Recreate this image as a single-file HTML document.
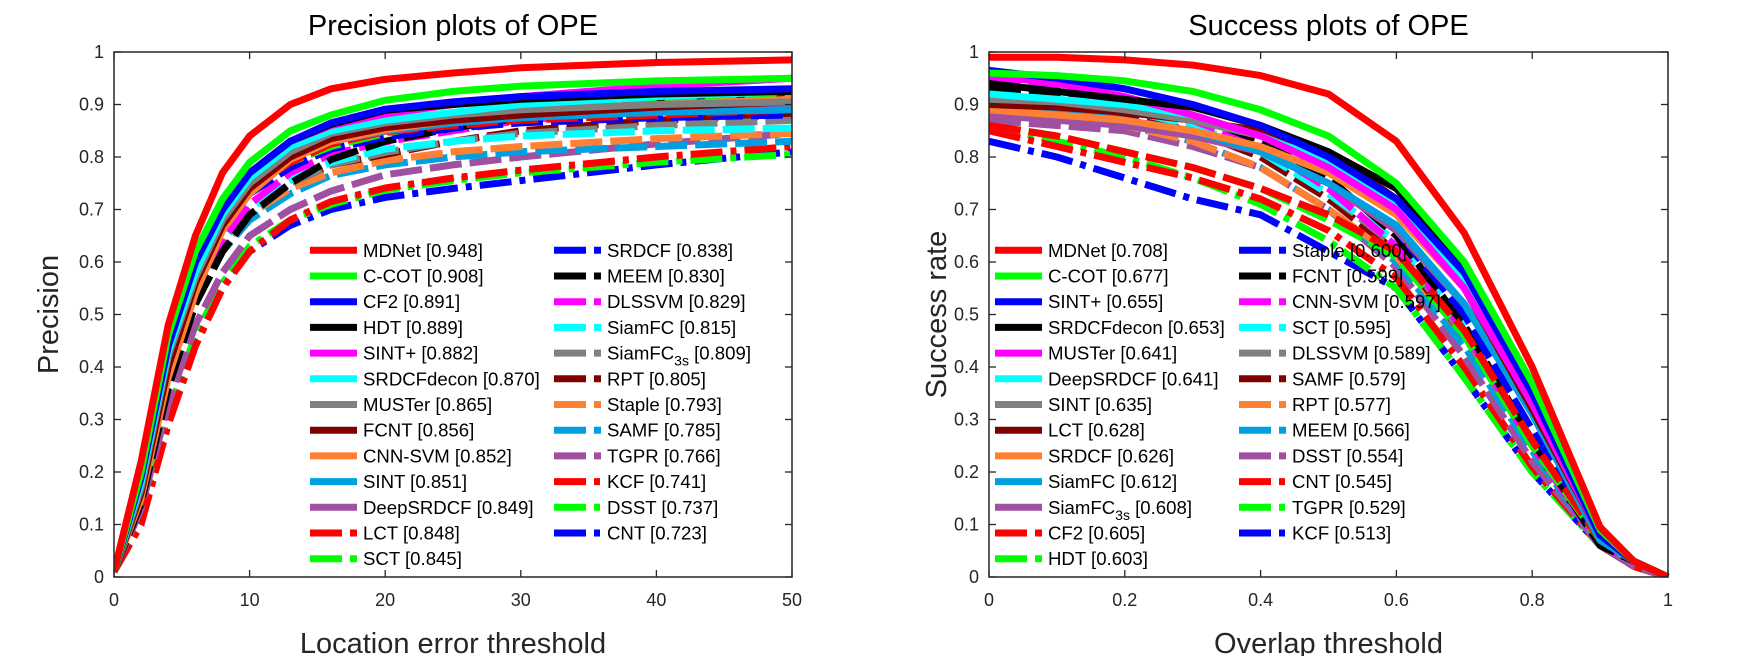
<!DOCTYPE html>
<html><head><meta charset="utf-8"><style>
body{margin:0;background:#fff;}
svg{display:block;font-family:"Liberation Sans",Arial,sans-serif;}
</style></head><body>
<svg id="chart" width="1750" height="656" viewBox="0 0 1750 656" xmlns="http://www.w3.org/2000/svg"></svg>
<script>
// ---- Precision data ----
const precThresholds=[0,2,4,6,8,10,13,16,20,25,30,40,50];
const precNames=["MDNet [0.948]","C-COT [0.908]","CF2 [0.891]","HDT [0.889]","SINT+ [0.882]","SRDCFdecon [0.870]","MUSTer [0.865]","FCNT [0.856]","CNN-SVM [0.852]","SINT [0.851]","DeepSRDCF [0.849]","LCT [0.848]","SCT [0.845]","SRDCF [0.838]","MEEM [0.830]","DLSSVM [0.829]","SiamFC [0.815]","SiamFC|3s| [0.809]","RPT [0.805]","Staple [0.793]","SAMF [0.785]","TGPR [0.766]","KCF [0.741]","DSST [0.737]","CNT [0.723]"];
const precValues=[
[0.01,0.22,0.48,0.65,0.77,0.84,0.90,0.93,0.948,0.96,0.97,0.98,0.985],
[0.01,0.20,0.46,0.62,0.72,0.79,0.85,0.88,0.908,0.925,0.935,0.945,0.95],
[0.01,0.19,0.44,0.60,0.70,0.77,0.83,0.865,0.891,0.905,0.915,0.925,0.93],
[0.01,0.19,0.44,0.60,0.70,0.77,0.83,0.862,0.889,0.90,0.91,0.92,0.925],
[0.01,0.20,0.45,0.61,0.71,0.77,0.83,0.86,0.882,0.90,0.915,0.935,0.95],
[0.01,0.18,0.43,0.58,0.69,0.76,0.82,0.85,0.870,0.885,0.90,0.915,0.925],
[0.01,0.17,0.42,0.57,0.68,0.75,0.81,0.845,0.865,0.88,0.89,0.90,0.905],
[0.01,0.16,0.40,0.56,0.67,0.74,0.80,0.835,0.856,0.87,0.88,0.895,0.905],
[0.01,0.15,0.38,0.54,0.66,0.73,0.795,0.83,0.852,0.87,0.885,0.90,0.91],
[0.01,0.19,0.44,0.59,0.69,0.75,0.80,0.83,0.851,0.865,0.875,0.885,0.89],
[0.01,0.16,0.40,0.56,0.67,0.74,0.795,0.83,0.849,0.865,0.875,0.89,0.90],
[0.01,0.16,0.40,0.56,0.67,0.74,0.79,0.825,0.848,0.86,0.87,0.88,0.89],
[0.01,0.17,0.41,0.57,0.67,0.74,0.79,0.82,0.845,0.87,0.89,0.91,0.92],
[0.01,0.16,0.39,0.55,0.66,0.73,0.78,0.815,0.838,0.855,0.865,0.875,0.88],
[0.01,0.14,0.36,0.52,0.62,0.69,0.75,0.795,0.83,0.855,0.875,0.905,0.92],
[0.01,0.15,0.38,0.54,0.64,0.71,0.77,0.805,0.829,0.85,0.87,0.89,0.90],
[0.01,0.17,0.40,0.55,0.64,0.70,0.755,0.79,0.815,0.83,0.84,0.85,0.855],
[0.01,0.16,0.39,0.54,0.63,0.69,0.75,0.785,0.809,0.83,0.845,0.86,0.87],
[0.01,0.14,0.36,0.52,0.62,0.69,0.75,0.785,0.805,0.83,0.85,0.87,0.88],
[0.01,0.16,0.39,0.54,0.63,0.69,0.74,0.77,0.793,0.81,0.82,0.835,0.845],
[0.01,0.15,0.37,0.52,0.62,0.68,0.73,0.765,0.785,0.80,0.81,0.82,0.83],
[0.01,0.13,0.33,0.48,0.58,0.65,0.70,0.735,0.766,0.785,0.80,0.825,0.845],
[0.01,0.10,0.29,0.44,0.55,0.62,0.68,0.715,0.741,0.76,0.775,0.80,0.82],
[0.01,0.12,0.31,0.46,0.56,0.63,0.68,0.71,0.737,0.755,0.77,0.79,0.805],
[0.01,0.12,0.31,0.46,0.56,0.62,0.67,0.70,0.723,0.74,0.755,0.785,0.81]];
const precXTicks=[0,10,20,30,40,50];
// ---- Success data ----
const succThresholds=[0,0.1,0.2,0.3,0.4,0.5,0.6,0.7,0.8,0.9,0.95,1];
const succNames=["MDNet [0.708]","C-COT [0.677]","SINT+ [0.655]","SRDCFdecon [0.653]","MUSTer [0.641]","DeepSRDCF [0.641]","SINT [0.635]","LCT [0.628]","SRDCF [0.626]","SiamFC [0.612]","SiamFC|3s| [0.608]","CF2 [0.605]","HDT [0.603]","Staple [0.600]","FCNT [0.599]","CNN-SVM [0.597]","SCT [0.595]","DLSSVM [0.589]","SAMF [0.579]","RPT [0.577]","MEEM [0.566]","DSST [0.554]","CNT [0.545]","TGPR [0.529]","KCF [0.513]"];
const succValues=[
[0.99,0.99,0.985,0.975,0.955,0.92,0.83,0.655,0.40,0.095,0.03,0],
[0.96,0.955,0.945,0.925,0.89,0.84,0.75,0.60,0.37,0.09,0.03,0],
[0.965,0.95,0.93,0.90,0.86,0.80,0.72,0.58,0.35,0.08,0.03,0],
[0.94,0.925,0.91,0.895,0.86,0.81,0.74,0.59,0.36,0.08,0.03,0],
[0.955,0.94,0.915,0.88,0.84,0.78,0.70,0.55,0.33,0.08,0.03,0],
[0.92,0.91,0.90,0.88,0.84,0.79,0.71,0.57,0.36,0.09,0.03,0],
[0.91,0.905,0.89,0.87,0.84,0.79,0.71,0.55,0.33,0.08,0.03,0],
[0.90,0.895,0.885,0.87,0.85,0.81,0.72,0.55,0.32,0.08,0.03,0],
[0.89,0.88,0.87,0.85,0.82,0.77,0.69,0.55,0.34,0.08,0.03,0],
[0.90,0.89,0.87,0.85,0.81,0.75,0.67,0.52,0.31,0.07,0.03,0],
[0.88,0.87,0.86,0.84,0.81,0.75,0.66,0.52,0.32,0.08,0.03,0],
[0.86,0.84,0.81,0.78,0.74,0.69,0.62,0.47,0.26,0.07,0.03,0],
[0.86,0.84,0.81,0.78,0.74,0.68,0.61,0.46,0.25,0.07,0.03,0],
[0.90,0.89,0.87,0.85,0.81,0.75,0.66,0.50,0.28,0.07,0.03,0],
[0.93,0.92,0.90,0.88,0.83,0.76,0.65,0.48,0.26,0.06,0.03,0],
[0.95,0.93,0.90,0.87,0.82,0.74,0.63,0.47,0.25,0.06,0.03,0],
[0.93,0.91,0.89,0.86,0.81,0.73,0.64,0.49,0.28,0.07,0.03,0],
[0.93,0.91,0.89,0.86,0.81,0.73,0.63,0.46,0.25,0.06,0.03,0],
[0.92,0.90,0.88,0.85,0.80,0.72,0.62,0.46,0.25,0.06,0.03,0],
[0.89,0.88,0.86,0.83,0.78,0.70,0.61,0.46,0.26,0.06,0.03,0],
[0.91,0.89,0.86,0.83,0.78,0.70,0.60,0.44,0.24,0.06,0.03,0],
[0.87,0.86,0.85,0.82,0.78,0.70,0.59,0.42,0.22,0.06,0.02,0],
[0.85,0.82,0.79,0.76,0.72,0.66,0.57,0.40,0.21,0.06,0.02,0],
[0.86,0.83,0.80,0.76,0.71,0.64,0.55,0.38,0.20,0.06,0.02,0],
[0.83,0.80,0.76,0.72,0.69,0.62,0.55,0.38,0.20,0.06,0.02,0]];
const succXTicks=[0,0.2,0.4,0.6,0.8,1];
const yTicks=[0,0.1,0.2,0.3,0.4,0.5,0.6,0.7,0.8,0.9,1];
const yTickLabels=["0","0.1","0.2","0.3","0.4","0.5","0.6","0.7","0.8","0.9","1"];

const colors=["#ff0000","#00ff00","#0000ff","#000000","#ff00ff","#00ffff","#808080","#800000","#ff8033","#00a0e0","#a050a0"];
function styleFor(i){
  if(i<11) return {c:colors[i],d:null};
  if(i<22) return {c:colors[i-11],d:"32 8"};
  return {c:["#ff0000","#00ff00","#0000ff"][i-22],d:"32 8 6 8"};
}
const NS="http://www.w3.org/2000/svg";
const svg=document.getElementById('chart');
function el(tag,attrs,parent){const e=document.createElementNS(NS,tag);for(const k in attrs)e.setAttribute(k,attrs[k]);(parent||svg).appendChild(e);return e;}

function drawPlot(cfg){
  const g=el('g',{});
  
  
  const L=cfg.x0,R=cfg.x1,T=52,B=577;
  const sx=v=>L+(v-cfg.xmin)/(cfg.xmax-cfg.xmin)*(R-L);
  const sy=v=>B-v*(B-T);
  const clip=el('clipPath',{id:cfg.name+'-clip'},g);
  el('rect',{x:L,y:T-4,width:R-L+4,height:B-T+4},clip);
  const sg=el('g',{'clip-path':'url(#'+cfg.name+'-clip)'},g);
  for(let i=cfg.vals.length-1;i>=0;i--){
    const st=styleFor(i);
    const pts=cfg.vals[i].map((v,j)=>sx(cfg.xs[j]).toFixed(1)+','+sy(v).toFixed(1)).join(' ');
    const p=el('polyline',{points:pts,fill:'none',stroke:st.c,'stroke-width':7,'stroke-linejoin':'round'},sg);
    if(st.d)p.setAttribute('stroke-dasharray',st.d);
    
    
  }
  const box=el('rect',{x:L,y:T,width:R-L,height:B-T,fill:'none',stroke:'#262626','stroke-width':1.5},g);
  
  
  yTicks.forEach((v,k)=>{
    const y=sy(v);
    el('line',{x1:L,x2:L+7,y1:y,y2:y,stroke:'#262626','stroke-width':1.3},g);
    el('line',{x1:R,x2:R-7,y1:y,y2:y,stroke:'#262626','stroke-width':1.3},g);
    const t=el('text',{x:L-10,y:y+6,'text-anchor':'end','font-size':18,fill:'#262626'},g);
    t.textContent=yTickLabels[k];
    
    
  });
  cfg.xticks.forEach(v=>{
    const x=sx(v);
    el('line',{x1:x,x2:x,y1:B,y2:B-7,stroke:'#262626','stroke-width':1.3},g);
    el('line',{x1:x,x2:x,y1:T,y2:T+7,stroke:'#262626','stroke-width':1.3},g);
    const t=el('text',{x:x,y:B+29,'text-anchor':'middle','font-size':18,fill:'#262626'},g);
    t.textContent=String(v);
    
    
  });
  const title=el('text',{x:(L+R)/2,y:35,'text-anchor':'middle','font-size':29,fill:'#000'},g);
  title.textContent=cfg.title;
  
  
  const xl=el('text',{x:(L+R)/2,y:653,'text-anchor':'middle','font-size':29,fill:'#262626'},g);
  xl.textContent=cfg.xlabel;
  
  
  const yl=el('text',{x:0,y:0,'text-anchor':'middle','font-size':29,fill:'#262626',transform:'translate('+(cfg.ylx)+','+((T+B)/2)+') rotate(-90)'},g);
  yl.textContent=cfg.ylabel;
  
  
  const lg=el('g',{},g);
  
  
  const perCol=cfg.perCol;
  cfg.labels.forEach((lab,i)=>{
    const col=i<perCol?0:1,row=i<perCol?i:i-perCol;
    const y=250.3+row*25.7;
    const lx=cfg.legX[col];
    const st=styleFor(i);
    const ent=el('g',{},lg);
    
    
    const ln=el('line',{x1:lx,x2:lx+47,y1:y,y2:y,stroke:st.c,'stroke-width':7},ent);
    if(st.d)ln.setAttribute('stroke-dasharray',st.d);
    const t=el('text',{x:lx+53,y:y+6.5,'font-size':18.6,fill:'#000'},ent);
    const parts=lab.split('|');
    if(parts.length===3){
      t.appendChild(document.createTextNode(parts[0]));
      const s=el('tspan',{'font-size':14,dy:6},t);s.textContent=parts[1];
      const r=el('tspan',{dy:-6},t);r.textContent=parts[2];
    } else t.textContent=lab;
  });
}
drawPlot({name:'precision-plot',x0:114,x1:792,xmin:0,xmax:50,xs:precThresholds,vals:precValues,labels:precNames,xticks:precXTicks,title:'Precision plots of OPE',xlabel:'Location error threshold',ylabel:'Precision',ylx:58,perCol:13,legX:[310,554]});
drawPlot({name:'success-plot',x0:989,x1:1668,xmin:0,xmax:1,xs:succThresholds,vals:succValues,labels:succNames,xticks:succXTicks,title:'Success plots of OPE',xlabel:'Overlap threshold',ylabel:'Success rate',ylx:946,perCol:13,legX:[995,1239]});
</script>
</body></html>
